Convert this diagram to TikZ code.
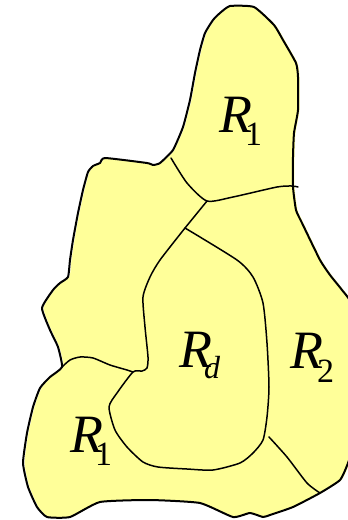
\documentclass[tikz,border=0pt]{standalone}
\usepackage{fontspec}
\setmainfont{Liberation Serif}
\begin{document}
\begin{tikzpicture}[x=1pt,y=-1pt,
  outline/.style={line width=2pt,line join=round,line cap=round},
  inner/.style={line width=1.5pt,line join=round,line cap=round},
  lab/.style={anchor=base west,inner sep=0pt,font=\fontsize{54}{60}\selectfont}]
\useasboundingbox (0,0) rectangle (348,520);
\clip (0,0) rectangle (348,520);
\definecolor{paleyellow}{RGB}{255,255,153}
\def\outerpath{(230,6) (254,7) (274,25) (283,40) (296,63) (298,77) (298,110) (294,133) (293,157) (293,187) (296,210) (302,223) (320,260) (330,275) (342,290) (352,305) (354,350) (354,440) (348,463) (340,480) (320,493) (293,507) (270,515) (263,517) (250,513) (233,517) (200,503) (150,500) (100,502) (70,517) (47,517) (37,507) (28,487) (23,463) (27,433) (33,407) (40,388) (50,377) (62,367) (58,347) (50,330) (42,308) (53,290) (60,283) (68,277) (70,260) (73,240) (78,213) (83,190) (88,172) (93,166) (100,163) (105,158) (147,163) (153,165) (160,163) (173,150) (183,127) (190,100) (195,73) (200,50) (205,33) (213,20) (220,13)}
\fill[paleyellow,xshift=1.5pt] plot[smooth cycle,tension=0.3] coordinates {\outerpath};
\draw[outline] plot[smooth cycle,tension=0.3] coordinates {\outerpath};
% top R1 boundary
\draw[inner] plot[smooth,tension=0.4] coordinates {(171,158) (187,183) (207,201) (233,197) (277,187) (292,186) (298,187)};
% Rd boundary
\draw[inner] plot[smooth,tension=0.4] coordinates {(207,201) (185,228)};
\draw[inner] plot[smooth,tension=0.4] coordinates {(185,228) (160,260) (150,277) (143,297) (145,327) (148,357) (147,368) (142,371) (133,372) (117,393) (109,407) (115,430) (127,447) (143,462) (158,467) (187,469) (213,470) (240,463) (253,453) (263,440) (267,417) (269,387) (267,343) (263,303) (253,277) (237,260) (185,228)};
% bottom R1 boundary
\draw[inner] plot[smooth,tension=0.4] coordinates {(62,367) (70,360) (80,357) (93,358) (110,365) (127,370) (133,372)};
% R2 lower line
\draw[inner] plot[smooth,tension=0.4] coordinates {(269,437) (287,457) (307,483) (320,493)};
% labels
\node[lab] (r1top) at (219,132) {\textit{R}\kern-7pt\raisebox{-13pt}{\fontsize{34}{34}\selectfont 1}};
\node[lab] (rd) at (179,367) {\textit{R}\kern-8pt\raisebox{-11pt}{\fontsize{32}{32}\selectfont\textit{d}}};
\node[lab] (r2) at (290,368) {\textit{R}\kern-6pt\raisebox{-14pt}{\fontsize{34}{34}\selectfont 2}};
\node[lab] (r1bot) at (70,452) {\textit{R}\kern-8pt\raisebox{-13pt}{\fontsize{34}{34}\selectfont 1}};
\end{tikzpicture}
\end{document}
